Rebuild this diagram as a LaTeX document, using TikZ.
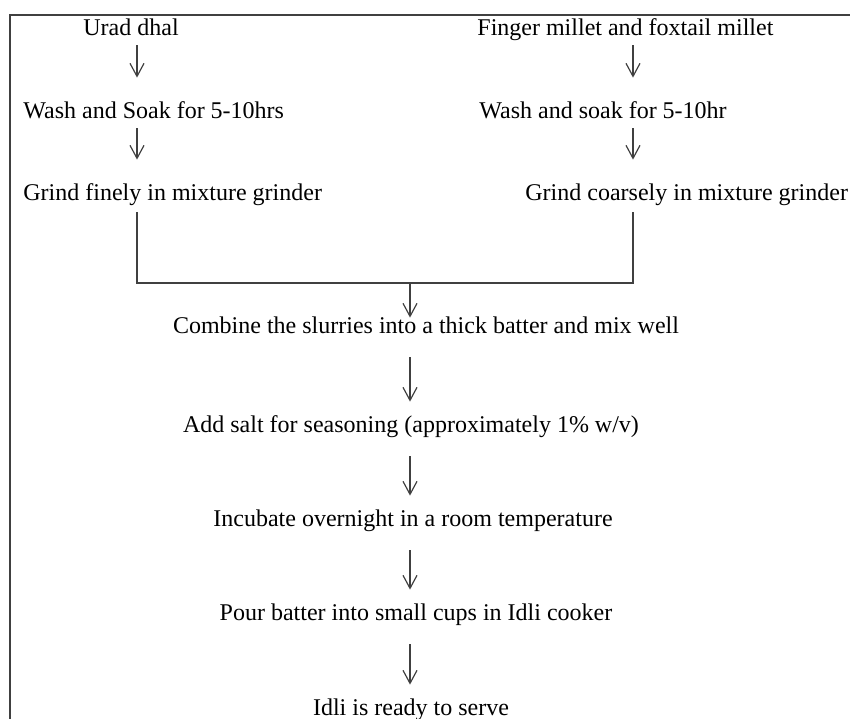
\documentclass[tikz,border=0pt]{standalone}
\usepackage{fontspec}
\setmainfont{Liberation Serif}
\usetikzlibrary{arrows.meta,calc}

\begin{document}
\begin{tikzpicture}[
  x=0.5pt, y=-0.5pt,
  font=\fontsize{12}{14}\selectfont,
  txt/.style={inner sep=0pt, anchor=base west, text height=9pt, text depth=3pt},
  ctr/.style={inner sep=0pt, anchor=base, text height=9pt, text depth=3pt},
  line/.style={draw=black!75, line width=0.6pt},
  arr/.style={line, -{Straight Barb[length=6.5pt,width=7pt]}, shorten <=9pt, shorten >=6pt},
  sarr/.style={arr, shorten <=2pt, shorten >=11pt}
]
\useasboundingbox (0,0) rectangle (850,718);
% frame (top and left edge only)
\draw[line] (855,15) -- (10,15) -- (10,725);
% left column: urad dhal
\node[txt] (urad) at (83,35) {Urad dhal};
\node[txt] (wash1) at (23,118) {Wash and Soak for 5-10hrs};
\node[txt] (grind1) at (23,200) {Grind finely in mixture grinder};
% right column: millets
\node[txt] (millet) at (477,35) {Finger millet and foxtail millet};
\node[txt] (wash2) at (479,118) {Wash and soak for 5-10hr};
\node[txt] (grind2) at (525,200) {Grind coarsely in mixture grinder};
% common steps
\node[ctr] (combine) at (426,333) {Combine the slurries into a thick batter and mix well};
\node[ctr] (salt) at (411,432) {Add salt for seasoning (approximately 1\% w/v)};
\node[ctr] (incub) at (413,526) {Incubate overnight in a room temperature};
\node[ctr] (pour) at (416,620) {Pour batter into small cups in Idli cooker};
\node[ctr] (ready) at (411,715) {Idli is ready to serve};
% arrow columns
\coordinate (lx) at (137,0);
\coordinate (rx) at (633,0);
\coordinate (cx) at (410,0);
\coordinate (join) at (410,283);
\draw[sarr] (urad.south -| lx) -- (wash1.north -| lx);
\draw[sarr] (wash1.south -| lx) -- (grind1.north -| lx);
\draw[sarr] (millet.south -| rx) -- (wash2.north -| rx);
\draw[sarr] (wash2.south -| rx) -- (grind2.north -| rx);
% merge of the two slurries
\draw[line, shorten <=3pt, shorten >=3pt] (grind1.south -| lx) |- (join) -| (grind2.south -| rx);
\draw[arr, shorten <=0pt, shorten >=-1.5pt] (join) -- (combine.north -| join);
% main line
\draw[arr] (combine.south -| cx) -- (salt.north -| cx);
\draw[arr] (salt.south -| cx) -- (incub.north -| cx);
\draw[arr] (incub.south -| cx) -- (pour.north -| cx);
\draw[arr] (pour.south -| cx) -- (ready.north -| cx);
\end{tikzpicture}
\end{document}
